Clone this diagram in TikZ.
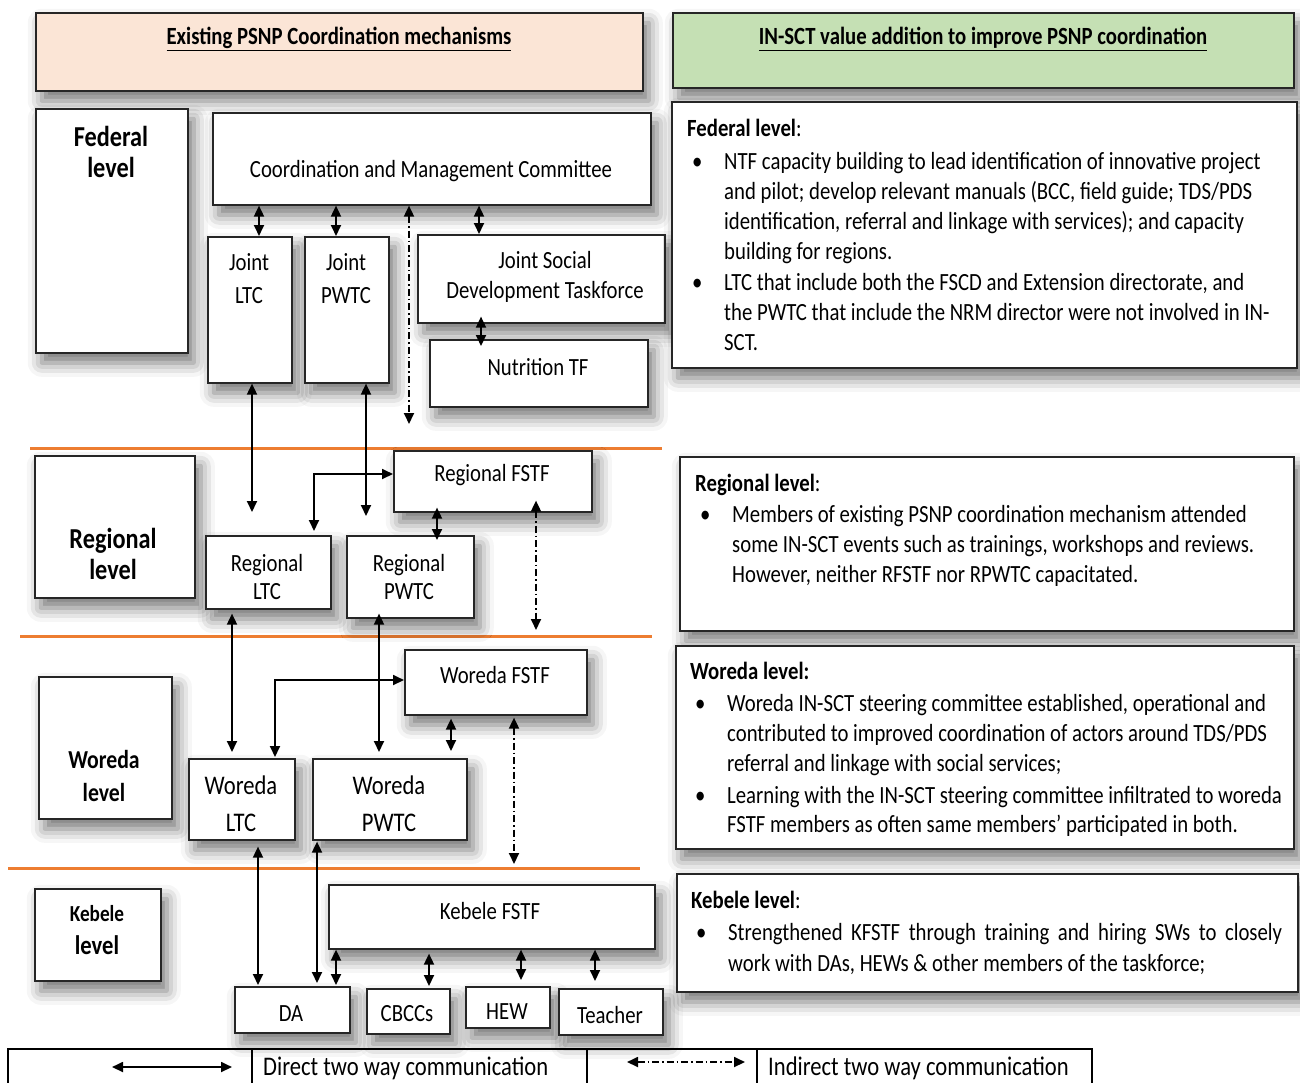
\documentclass[tikz,border=0pt]{standalone}
\usepackage{fontspec}
\setmainfont{Carlito}[FakeStretch=0.84]
\usetikzlibrary{arrows.meta,shadows.blur}
\definecolor{peach}{HTML}{FBE5D6}
\definecolor{lgreen}{HTML}{C5E0B4}
\definecolor{orng}{HTML}{ED7D31}
\newcommand{\mybx}[6][]{\node[box,anchor=north west,minimum width={(#5-#3)*1bp},minimum height={(#6-#4)*1bp},#1] (#2) at (#3,#4) {};}
\newcommand{\mybul}{\hspace*{5bp}\makebox[32bp][l]{\textbullet}}
\newcommand{\hind}{\hspace*{37bp}}
\tikzset{
  box/.style={draw=black!85, line width=1.6bp, fill=white, rectangle, inner sep=0pt,
    blur shadow={shadow xshift=6bp, shadow yshift=-10bp, shadow blur radius=14bp, shadow opacity=55}},
  txt/.style={inner sep=0pt, align=center, font=\fontsize{24.8}{30}\selectfont},
  bigtxt/.style={inner sep=0pt, align=center, font=\fontsize{27}{37}\selectfont},
  htxt/.style={inner sep=0pt, font=\bfseries\fontsize{24.8}{30}\selectfont},
  lvl/.style={inner sep=0pt, align=center, font=\bfseries\fontsize{29}{32}\selectfont},
  rtxt/.style={inner sep=0pt, align=left, anchor=north west, font=\fontsize{24.8}{30}\selectfont},
  legtxt/.style={inner sep=0pt, anchor=west, font=\fontsize{27}{30}\selectfont},
  conn/.style={line width=1.8bp, {Triangle[length=11bp,width=10bp]}-{Triangle[length=11bp,width=10bp]}},
  iconn/.style={conn, dash pattern=on 7bp off 3bp on 1.5bp off 3bp},
  sepline/.style={draw=orng, line width=3bp},
  legline/.style={line width=1.4bp}
}
\begin{document}
\begin{tikzpicture}[x=1bp,y=-1bp]
\useasboundingbox (0,0) rectangle (1300,1082);
% level separators
\draw[sepline] (30,448) -- (662,448);
\draw[sepline] (20,636) -- (652,636);
\draw[sepline] (8,868) -- (640,868);
% headers
\mybx[fill=peach]{hl}{35}{12}{642}{90}
\mybx[fill=lgreen]{hr}{672}{12}{1293}{87}
\node[htxt] (hl-t) at (339,39) {\underline{Existing PSNP Coordination mechanisms}};
\node[htxt] (hr-t) at (983,39) {\underline{IN-SCT value addition to improve PSNP coordination}};
% federal
\mybx{fedl}{35}{108}{187}{352}
\mybx{cmc}{212}{112}{650}{204}
\mybx{jltc}{207}{236}{291}{382}
\mybx{jpwtc}{304}{236}{388}{382}
\mybx{jsdt}{417}{234}{664}{322}
\mybx{ntf}{429}{339}{647}{406}
\node[lvl] (fedl-t) at (111,152) {Federal\\level};
\node[txt] (cmc-t) at (431,171) {Coordination and Management Committee};
\node[txt,font=\fontsize{24.8}{33}\selectfont] (jltc-t) at (249,279) {Joint\\LTC};
\node[txt,font=\fontsize{24.8}{33}\selectfont] (jpwtc-t) at (346,279) {Joint\\PWTC};
\node[txt] (jsdt-t) at (545,277) {Joint Social\\Development Taskforce};
\node[txt] (ntf-t) at (538,367) {Nutrition TF};
% regional
\mybx{regl}{34}{455}{194}{597}
\mybx{rfstf}{393}{450}{591}{511}
\mybx{rltc}{205}{535}{330}{608}
\mybx{rpwtc}{346}{535}{473}{617}
\node[lvl] (regl-t) at (113,554) {Regional\\level};
\node[txt] (rfstf-t) at (492,475) {Regional FSTF};
\node[txt,font=\fontsize{24.8}{29}\selectfont] (rltc-t) at (267,577) {Regional\\LTC};
\node[txt,font=\fontsize{24.8}{29}\selectfont] (rpwtc-t) at (409,577) {Regional\\PWTC};
% woreda
\mybx{worl}{38}{676}{171}{818}
\mybx{wfstf}{404}{649}{586}{714}
\mybx{wltc}{188}{758}{294}{839}
\mybx{wpwtc}{312}{758}{466}{839}
\node[lvl,font=\bfseries\fontsize{26}{33}\selectfont] (worl-t) at (104,776) {Woreda\\level};
\node[txt] (wfstf-t) at (495,675) {Woreda FSTF};
\node[bigtxt] (wltc-t) at (241,804) {Woreda\\LTC};
\node[bigtxt] (wpwtc-t) at (389,804) {Woreda\\PWTC};
% kebele
\mybx{kebl}{34}{888}{160}{980}
\mybx{kfstf}{328}{884}{654}{948}
\mybx{da}{234}{986}{349}{1032}
\mybx{cbcc}{366}{988}{449}{1033}
\mybx{hew}{465}{986}{549}{1027}
\mybx{teach}{558}{988}{662}{1034}
\node[lvl,font=\bfseries\fontsize{27}{33}\selectfont] (kebl-t) at (97,930) {{\fontsize{23}{25}\selectfont Kebele}\\level};
\node[txt] (kfstf-t) at (490,911) {Kebele FSTF};
\node[txt] (da-t) at (291,1014) {DA};
\node[txt] (cbcc-t) at (407,1014) {CBCCs};
\node[txt] (hew-t) at (507,1012) {HEW};
\node[txt] (teach-t) at (610,1015) {Teacher};
% right panels
\mybx{rfed}{671}{101}{1296}{367}
\mybx{rreg}{679}{456}{1293}{630}
\mybx{rwor}{675}{645}{1293}{848}
\mybx{rkeb}{676}{873}{1297}{991}
\node[rtxt] (rfed-t) at (687,119) {\textbf{Federal level}:\\[3bp]
\mybul NTF capacity building to lead identification of innovative project\\
\hind and pilot; develop relevant manuals (BCC, field guide; TDS/PDS\\
\hind identification, referral and linkage with services); and capacity\\
\hind building for regions.\\[2bp]
\mybul LTC that include both the FSCD and Extension directorate, and\\
\hind the PWTC that include the NRM director were not involved in IN-\\
\hind SCT.};
\node[rtxt] (rreg-t) at (695,474) {\textbf{Regional level}:\\[1bp]
\mybul Members of existing PSNP coordination mechanism attended\\
\hind some IN-SCT events such as trainings, workshops and reviews.\\
\hind However, neither RFSTF nor RPWTC capacitated.};
\node[rtxt] (rwor-t) at (690,662) {\textbf{Woreda level:}\\[2bp]
\mybul Woreda IN-SCT steering committee established, operational and\\
\hind contributed to improved coordination of actors around TDS/PDS\\
\hind referral and linkage with social services;\\[2bp]
\mybul Learning with the IN-SCT steering committee infiltrated to woreda\\
\hind FSTF members as often same members’ participated in both.};
\node[rtxt] (rkeb-t) at (691,891) {\textbf{Kebele level}:\\[2bp]
\mybul\makebox[554bp][s]{Strengthened KFSTF through training and hiring SWs to closely}\\[1bp]
\hind work with DAs, HEWs \& other members of the taskforce;};
% federal connectors
\draw[conn] (cmc.south -| 259,0) -- (jltc.north -| 259,0);
\draw[conn] (cmc.south -| 336,0) -- (jpwtc.north -| 336,0);
\draw[conn] (cmc.south -| 479,0) -- (jsdt.north -| 479,0);
\draw[conn, shorten <=-7bp, shorten >=-7bp] (jsdt.south -| 481,0) -- (ntf.north -| 481,0);
\draw[iconn, shorten >=26bp] (cmc.south -| 409,0) -- (rfstf.north -| 409,0);
\draw[conn, shorten >=23bp] (jltc.south -| 252,0) -- (rltc.north -| 252,0);
\draw[conn, shorten >=19bp] (jpwtc.south -| 366,0) -- (rpwtc.north -| 366,0);
% regional connectors
\draw[conn, shorten <=4bp] (rltc.north -| 314,0) |- (rfstf.west |- 0,474);
\draw[conn, shorten <=-5bp, shorten >=-5bp] (rfstf.south -| 437,0) -- (rpwtc.north -| 437,0);
\draw[iconn, shorten <=-12bp, shorten >=19bp] (rfstf.south -| 536,0) -- (wfstf.north -| 536,0);
\draw[conn, shorten <=4bp, shorten >=6bp] (rltc.south -| 232,0) -- (wltc.north -| 232,0);
\draw[conn, shorten <=-5bp, shorten >=6bp] (rpwtc.south -| 379,0) -- (wpwtc.north -| 379,0);
% woreda connectors
\draw[conn, shorten <=1bp] (wltc.north -| 275,0) |- (wfstf.west |- 0,680);
\draw[conn, shorten <=3bp, shorten >=7bp] (wfstf.south -| 451,0) -- (wpwtc.north -| 451,0);
\draw[iconn, shorten <=2bp, shorten >=20bp] (wfstf.south -| 514,0) -- (kfstf.north -| 514,0);
\draw[conn, shorten <=6bp, shorten >=1bp] (wltc.south -| 258,0) -- (da.north -| 258,0);
\draw[conn, shorten <=1bp, shorten >=3bp] (wpwtc.south -| 317,0) -- (da.north -| 317,0);
% kebele connectors
\draw[conn, shorten >=1bp] (kfstf.south -| 336,0) -- (da.north -| 336,0);
\draw[conn, shorten <=4bp, shorten >=2bp] (kfstf.south -| 429,0) -- (cbcc.north -| 429,0);
\draw[conn, shorten >=6bp] (kfstf.south -| 521,0) -- (hew.north -| 521,0);
\draw[conn, shorten >=7bp] (kfstf.south -| 595,0) -- (teach.north -| 595,0);
% legend
\draw[legline] (8,1084) -- (8,1049) -- (1092,1049) -- (1092,1084);
\draw[legline] (252,1049) -- (252,1084);
\draw[legline] (587,1049) -- (587,1084);
\draw[legline] (757,1049) -- (757,1084);
\coordinate (la) at (112,1067);
\coordinate (lb) at (232,1067);
\coordinate (lc) at (627,1062);
\coordinate (ld) at (745,1062);
\draw[conn] (la) -- (lb);
\draw[iconn] (lc) -- (ld);
\node[legtxt] (leg1) at (263,1068) {Direct two way communication};
\node[legtxt] (leg2) at (768,1068) {Indirect two way communication};
\end{tikzpicture}
\end{document}
